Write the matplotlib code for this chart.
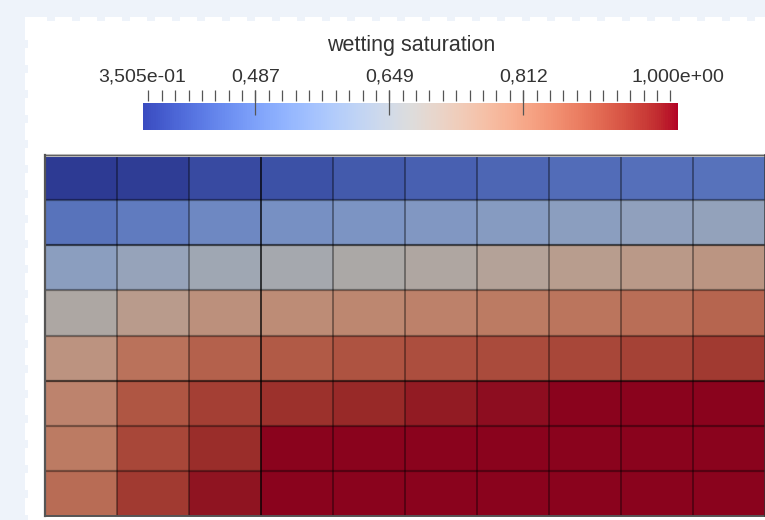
import numpy as np
import matplotlib
matplotlib.use("Agg")
import matplotlib.pyplot as plt
from matplotlib.colors import ListedColormap, Normalize
from matplotlib.patches import Rectangle
import matplotlib.transforms as mtransforms

# ---------------- data ----------------
title = "wetting saturation"
vmin, vmax = 0.3505, 1.0
major_ticks = [0.487, 0.6495, 0.812]
major_labels = ["0,487", "0,649", "0,812"]
end_labels = ["3,505e-01", "1,000e+00"]

# wetting saturation per cell, rows from top to bottom, 10 columns
row1 = [0.351, 0.357, 0.383, 0.396, 0.413, 0.426, 0.439, 0.451, 0.458, 0.463]
row2 = [0.467, 0.487, 0.519, 0.539, 0.552, 0.565, 0.578, 0.591, 0.604, 0.610]
row3 = [0.591, 0.617, 0.643, 0.662, 0.682, 0.695, 0.714, 0.734, 0.747, 0.760]
row4 = [0.688, 0.740, 0.773, 0.786, 0.799, 0.812, 0.825, 0.838, 0.851, 0.870]
row5 = [0.766, 0.844, 0.877, 0.890, 0.903, 0.909, 0.916, 0.922, 0.929, 0.942]
row6 = [0.805, 0.896, 0.935, 0.955, 0.965, 0.980, 0.990, 1.000, 1.000, 1.000]
row7 = [0.825, 0.922, 0.961, 1.000, 1.000, 1.000, 1.000, 1.000, 1.000, 1.000]
row8 = [0.857, 0.942, 0.987, 1.000, 1.000, 1.000, 1.000, 1.000, 1.000, 1.000]
values = np.array([row1, row2, row3, row4, row5, row6, row7, row8])

# ---------------- style ----------------
W, H = 765, 520
bg = "#eef3fa"
FONT = "Liberation Sans"
shade = 0.765

base = plt.get_cmap("coolwarm")
cols = base(np.linspace(0, 1, 256))
cols[:, :3] *= shade
shaded = ListedColormap(cols)
norm = Normalize(vmin, vmax)

fig = plt.figure(figsize=(W / 100, H / 100), dpi=100)
fig.patch.set_facecolor(bg)

def px_axes(x0, y0, x1, y1, **kw):
    return fig.add_axes([x0 / W, (H - y1) / H, (x1 - x0) / W, (y1 - y0) / H], **kw)

# background panel
axbg = px_axes(0, 0, W, H)
axbg.set_xlim(0, W)
axbg.set_ylim(H, 0)
axbg.axis("off")
axbg.add_patch(Rectangle((25, 17), W - 25, H - 17, facecolor="white", edgecolor="none"))
for xs in np.arange(47, W, 25):
    axbg.add_patch(Rectangle((xs, 16.5), 8, 4, facecolor=bg, edgecolor="none"))
for ys in np.arange(40, H, 25):
    axbg.add_patch(Rectangle((24.5, ys), 3.5, 8, facecolor=bg, edgecolor="none"))

# ---------------- grid ----------------
nrows, ncols = values.shape
axg = px_axes(45, 155, 765, 516)
axg.pcolormesh(np.arange(ncols + 1), np.arange(nrows + 1), values,
               cmap=shaded, norm=norm, edgecolors="none")
axg.set_xlim(0, ncols)
axg.set_ylim(nrows, 0)
axg.axis("off")
for r in range(1, nrows):
    a = 0.6 if r in (2, 5) else 0.38
    axg.axhline(r, color="black", alpha=a, lw=1.6)
for c in range(1, ncols):
    if c == 3:
        axg.axvline(c, color="black", alpha=0.9, lw=1.1)
    else:
        axg.axvline(c, color="black", alpha=0.4, lw=1.3)
axg.axhline(0, color="#bdbdbd", lw=2.2, clip_on=False)
axg.axhline(0, color="#3a3a3a", lw=0.8, alpha=0.7, clip_on=False)
axg.axhline(nrows, color="#555555", lw=1.4, clip_on=False)
axg.axvline(0, color="#555555", lw=1.6, clip_on=False)
axg.axvline(ncols, color="#333333", lw=1.2, alpha=0.8, clip_on=False)

# ---------------- colorbar ----------------
axc = px_axes(143, 103, 678, 130)
grad = np.linspace(vmin, vmax, 256).reshape(1, -1)
axc.imshow(grad, aspect="auto", cmap=base, norm=norm,
           extent=[vmin, vmax, 0, 1], interpolation="nearest")
axc.set_xlim(vmin, vmax)
axc.set_ylim(0, 1)
axc.axis("off")
trans = mtransforms.blended_transform_factory(axc.transData, axc.transAxes)
step = (major_ticks[1] - major_ticks[0]) / 10
minor = np.arange(major_ticks[0] - 8 * step, vmax, step)
minor = minor[(minor >= vmin) & (minor <= vmax)]
axc.vlines(minor, 29 / 27, 40 / 27, transform=trans, color="#555555",
           lw=0.9, clip_on=False)
axc.vlines(major_ticks, 15 / 27, 40 / 27, transform=trans, color="#555555",
           lw=0.9, clip_on=False)

label_y = 77
for v, lab in zip(major_ticks, major_labels):
    xp = 143 + (v - vmin) / (vmax - vmin) * 535
    axbg.text(xp, label_y, lab, ha="center", va="center", fontsize=14,
              family=FONT, color="#333333")
axbg.text(142, label_y, end_labels[0], ha="center", va="center", fontsize=14,
          family=FONT, color="#333333")
axbg.text(678, label_y, end_labels[1], ha="center", va="center", fontsize=14,
          family=FONT, color="#333333")
axbg.text(411, 46, title, ha="center", va="center", fontsize=15.5,
          family=FONT, color="#333333")

fig.savefig("out.png", dpi=100, facecolor=bg)
